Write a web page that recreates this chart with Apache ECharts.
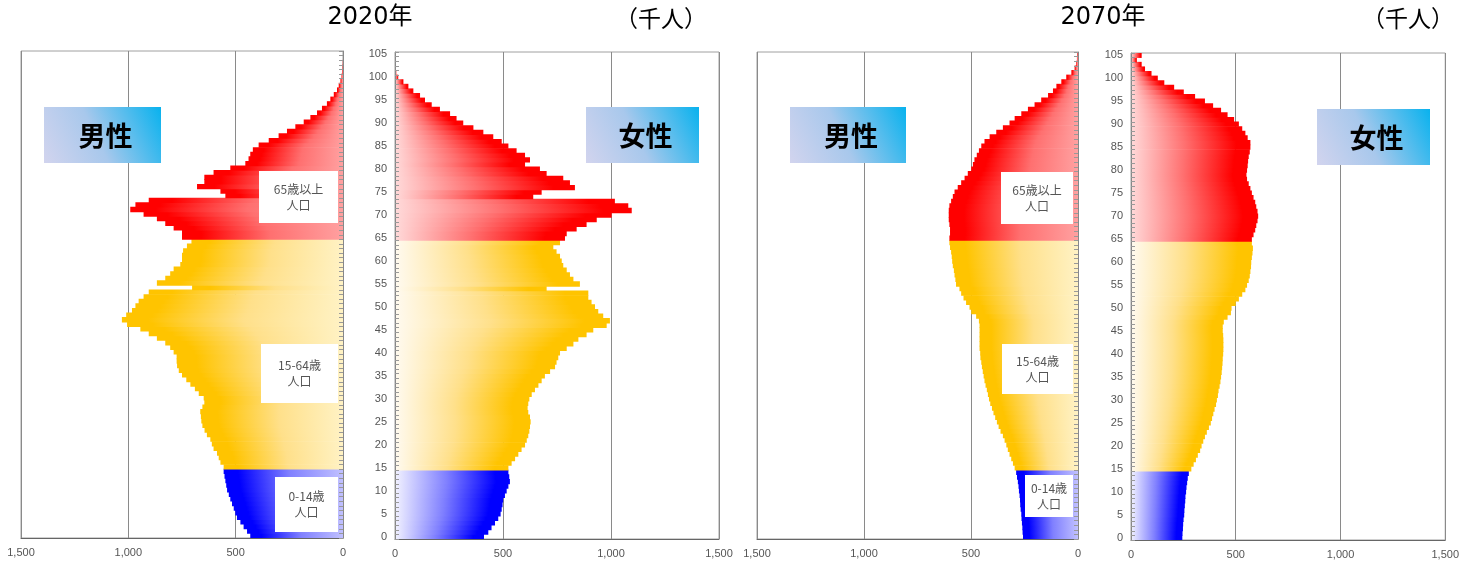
<!DOCTYPE html>
<html><head><meta charset="utf-8">
<script src="https://cdn.jsdelivr.net/npm/echarts@6/dist/echarts.min.js"></script>
<style>html,body{margin:0;padding:0;background:#fff}#c{width:1462px;height:563px}</style>
</head><body><div id="c"></div>
<script>
// Age categories (0..105)
const ages = [0,1,2,3,4,5,6,7,8,9,10,11,12,13,14,15,16,17,18,19,20,21,22,23,24,25,26,27,28,29,30,31,32,33,34,35,36,37,38,39,40,41,42,43,44,45,46,47,48,49,50,51,52,53,54,55,56,57,58,59,60,61,62,63,64,65,66,67,68,69,70,71,72,73,74,75,76,77,78,79,80,81,82,83,84,85,86,87,88,89,90,91,92,93,94,95,96,97,98,99,100,101,102,103,104,105];
const xTickLabels = ['0','500','1,000','1,500'];

// Population (thousand persons), index = age
const male2020 = [432,447,463,478,494,502,509,517,525,532,540,544,548,552,556,556,571,579,587,603,611,618,634,645,655,660,662,665,655,646,649,672,690,711,730,750,765,773,775,775,789,805,828,867,905,944,1006,1030,1010,983,967,952,929,905,703,867,828,805,789,758,750,750,745,727,706,750,750,789,828,867,929,991,967,905,548,571,680,646,646,603,525,455,440,432,420,393,346,300,261,222,183,152,121,98,75,59,43,28,20,12,7,4,2,1,0,0];
const female2020 = [412,432,447,463,478,489,494,498,501,509,517,525,532,529,525,525,540,556,571,586,602,610,617,622,625,628,625,617,614,617,622,633,648,664,679,694,718,741,748,756,764,795,826,849,887,918,980,995,964,941,926,910,895,895,702,856,826,810,795,779,772,764,748,733,764,787,795,841,887,934,1003,1096,1080,1018,640,679,833,810,779,702,671,602,625,602,563,525,494,455,409,363,316,285,255,208,170,139,116,85,62,39,15,6,3,1,0,0];
const male2070 = [257,259,260,262,264,265,268,270,271,273,276,278,281,285,289,296,304,312,320,328,335,343,351,362,371,379,387,395,402,410,416,421,426,432,437,441,445,449,452,456,457,460,460,460,460,460,460,463,476,499,507,523,535,546,554,570,573,577,580,585,588,590,593,598,601,601,598,598,601,604,604,604,601,593,585,577,562,546,530,515,499,491,484,473,463,452,437,413,382,351,320,296,265,234,203,172,140,117,101,78,55,31,16,8,5,3];
const female2070 = [245,246,248,249,251,254,255,257,259,260,263,265,268,271,276,288,299,310,319,330,337,345,353,362,372,381,387,393,399,406,410,415,418,423,427,430,433,435,437,438,440,441,441,441,440,438,438,443,461,477,480,500,515,531,546,554,562,567,570,573,574,577,580,582,577,577,585,593,598,604,607,604,598,593,585,577,570,562,554,551,554,557,559,562,567,570,570,557,546,531,515,492,461,430,392,353,306,252,206,159,128,98,67,51,28,51];

const chart = echarts.init(document.getElementById('c'));
const LG = echarts.graphic.LinearGradient;

const pal = {
  red:    {maleLight:'#ffa0a0', femLight:'#ffdada', mid:'#ff7070', full:'#ff0000'},
  yellow: {maleLight:'#fff2c4', femLight:'#fffaf0', mid:'#ffe08a', full:'#ffc400'},
  blue:   {maleLight:'#c0c0ff', femLight:'#f2f2ff', mid:'#8080ff', full:'#0000ff'}
};
function groupOf(age){ return age < 15 ? 'blue' : (age < 65 ? 'yellow' : 'red'); }
function barColor(age, male){
  const p = pal[groupOf(age)];
  const light = male ? p.maleLight : p.femLight;
  if (male) return new LG(0,0,1,0,[{offset:0,color:p.full},{offset:0.12,color:p.full},{offset:0.55,color:p.mid},{offset:1,color:light}]);
  return new LG(0,0,1,0,[{offset:0,color:light},{offset:0.45,color:p.mid},{offset:0.88,color:p.full},{offset:1,color:p.full}]);
}

const panels = [
  {left:21,  top:51, width:322, data:male2020,   male:true},
  {left:395, top:52, width:324, data:female2020, male:false},
  {left:757, top:52, width:321, data:male2070,   male:true},
  {left:1131,top:53, width:322, data:female2070, male:false}
];
const H = 487;
const font = 'Liberation Sans, DejaVu Sans, sans-serif';
const cjk = '"Noto Sans CJK JP", sans-serif';
const titleFont = '"DejaVu Sans", "Noto Sans CJK JP", sans-serif';

const grid=[], xAxis=[], yAxis=[], series=[];
panels.forEach((p,i)=>{
  grid.push({left:p.left, top:p.top, width:p.width, height:H, show:true, borderColor:'#a0a0a0', borderWidth:1, backgroundColor:'transparent'});
  xAxis.push({
    type:'value', gridIndex:i, min:0, max:1500, interval:500, inverse:p.male,
    axisLine:{show:true, lineStyle:{color:'#666'}},
    axisTick:{show:false},
    splitLine:{show:true, lineStyle:{color:'#8a8a8a', width:1}},
    axisLabel:{color:'#555', fontSize:11, fontFamily:font, margin:9,
      formatter:v=>xTickLabels[Math.round(v/500)]}
  });
  yAxis.push({
    type:'category', gridIndex:i, data:ages, position:p.male?'right':'left', z:5,
    axisLine:{show:true, lineStyle:{color:'#888'}},
    axisTick:{show:true, inside:true, length:4, interval:0, lineStyle:{color:'#999'}},
    axisLabel:{show:!p.male, interval:4, color:'#555', fontSize:11, fontFamily:font, margin:8},
    splitLine:{show:false}
  });
  series.push({
    type:'bar', xAxisIndex:i, yAxisIndex:i, barWidth:5.3, barGap:'-100%',
    silent:true, animation:false,
    data:p.data.map((v,a)=>({value:v, itemStyle:{color:barColor(a,p.male)}}))
  });
});

const graphic = [];
function addText(x,y,txt,fontStr,fill){
  graphic.push({type:'text', x:x, y:y, z:100, zlevel:0, style:{text:txt, fill:fill, font:fontStr, textAlign:'center', textVerticalAlign:'middle'}});
}
function sexBox(x,y,w,h,txt){
  graphic.push({type:'rect', z:100, shape:{x:x,y:y,width:w,height:h}, style:{fill:new LG(0,1,1,0,[{offset:0,color:'#d2d4ee'},{offset:0.45,color:'#a8c8ec'},{offset:1,color:'#08b2ee'}])}});
  addText(x+w/2+3, y+h/2+1, txt, 'bold 27px '+cjk, '#000');
}
function noteBox(x,y,w,h,l1,l2){
  graphic.push({type:'rect', z:100, shape:{x:x,y:y,width:w,height:h}, style:{fill:'#ffffff'}});
  addText(x+w/2, y+h/2-8, l1, 'normal 12px '+cjk, '#555');
  addText(x+w/2, y+h/2+8, l2, 'normal 12px '+cjk, '#555');
}

addText(370, 18, '2020年', 'normal 24px '+titleFont, '#000');
addText(661, 18, '（千人）', 'normal 23px '+cjk, '#000');
addText(1103, 18, '2070年', 'normal 24px '+titleFont, '#000');
addText(1408, 18, '（千人）', 'normal 23px '+cjk, '#000');
sexBox(44,107,117,56,'男性');
sexBox(586,107,113,56,'女性');
sexBox(790,107,116,56,'男性');
sexBox(1317,109,113,56,'女性');
noteBox(259,171,79,52,'65歳以上','人口');
noteBox(261,344,77,59,'15-64歳','人口');
noteBox(275,477,63,55,'0-14歳','人口');
noteBox(1001,172,72,52,'65歳以上','人口');
noteBox(1002,344,71,50,'15-64歳','人口');
noteBox(1025,475,48,42,'0-14歳','人口');

chart.setOption({animation:false, backgroundColor:'#fff', grid, xAxis, yAxis, series, graphic});
</script></body></html>
